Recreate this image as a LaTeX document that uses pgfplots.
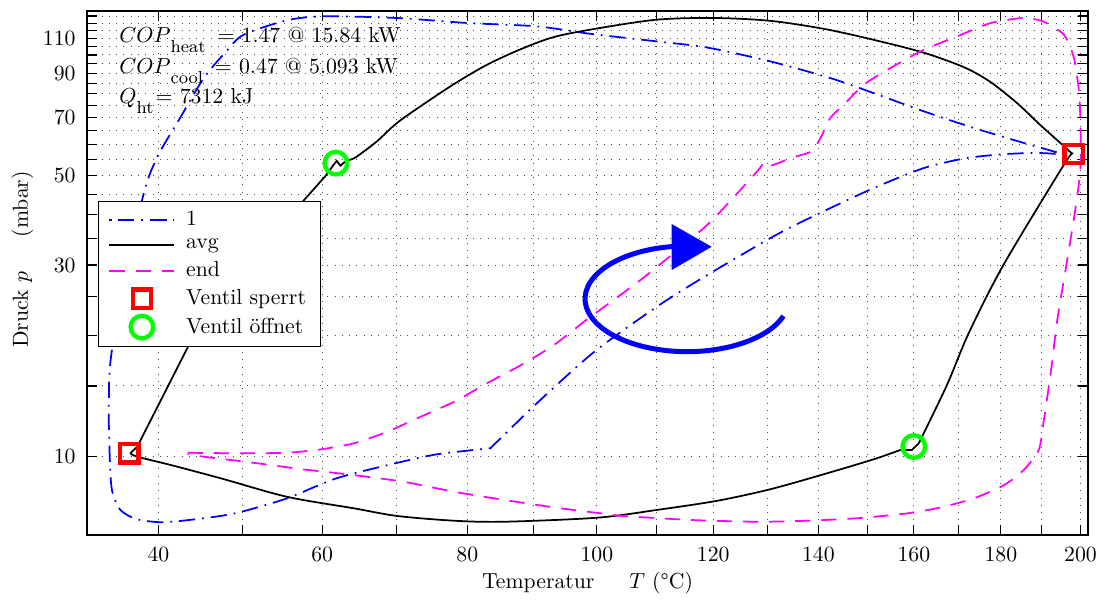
\documentclass[border=0pt]{standalone}
\usepackage{fontspec}
\usepackage{pgfplots}
\pgfplotsset{compat=1.18}
\definecolor{mag}{rgb}{1,0,1}

\begin{document}
\begin{tikzpicture}
\begin{axis}[
  scale only axis,
  width=460.5pt, height=241pt,
  ymode=log,
  x coord trafo/.code={\pgfmathparse{-1000/(#1+273.15)}},
  x coord inv trafo/.code={\pgfmathparse{-1000/#1-273.15}},
  xmin=32, xmax=202,
  ymin=6.385, ymax=128.6,
  xtick={40,50,60,70,80,90,100,110,120,130,140,150,160,170,180,190,200},
  xticklabels={40,,60,,80,,100,,120,,140,,160,,180,,200},
  ytick={10,15,20,25,30,35,40,45,50,55,60,65,70,75,80,85,90,95,100,105,110,115,120,125},
  yticklabels={10,,,,30,,,,50,,,,70,,,,90,,,,110,,,},
  tick align=inside,
  tick pos=both,
  major tick length=4.6pt,
  major tick style={black, line width=0.5pt},
  axis line style={line width=0.9pt},
  grid=major,
  major grid style={black!70, line width=0.45pt, dash pattern=on 0.45pt off 2.9pt},
  xticklabel style={yshift=-2pt},
  yticklabel style={xshift=-1.7pt},
  every axis x label/.style={at={(axis description cs:0.5,-0.1017)}, anchor=base},
  every axis y label/.style={at={(axis description cs:-0.0644,0.526)}, rotate=90, anchor=center},
  xlabel={Temperatur\hspace{16pt}$T$ (\textdegree C)},
  ylabel={Druck $p$\hspace{16pt}(mbar)},
  legend style={at={(axis description cs:0.0113,0.638)}, anchor=north west, draw=black, line width=0.5pt, fill=white, font=\normalsize, inner xsep=4.5pt, inner ysep=2.5pt, row sep=0.5pt, column sep=3pt},
  legend cell align=left,
  legend image code/.code={\draw[mark repeat=2,mark phase=2,#1] plot coordinates {(0cm,0cm) (0.525cm,0cm) (1.05cm,0cm)};},
]

\addplot[blue, line width=0.8pt, smooth, tension=0.45, dash pattern=on 0.8pt off 3.2pt on 7.5pt off 3.2pt] coordinates {
(196.0,56.5) (185.6,60.4) (173.6,65.8) (162.2,72.4) (151.3,80.4) (142.4,87.6)
(130.6,96.4) (118.8,104.4) (110.0,108.1) (98.9,112.9) (90.5,117.8) (80.0,120.1)
(70.0,123.6) (60.2,124.8) (55.5,122.0) (50.1,112.3) (48.0,102.1) (45.3,87.6)
(42.5,69.7) (39.8,55.4) (38.1,43.2) (34.8,18.8) (34.4,13.6) (34.5,10.0)
(34.75,8.26) (35.7,7.37) (37.55,6.99) (40.6,6.87) (45.3,7.03) (49.3,7.25)
(55.5,7.88) (61.9,8.84) (70.1,9.66) (75.6,10.14) (82.9,10.49) (83.9,10.7)
(90.5,13.6) (99.5,18.2) (110.0,23.6) (118.3,28.0) (131.8,35.7) (141.0,40.8)
(151.3,46.6) (162.2,52.3) (172.0,55.4) (181.5,56.7) (189.7,57.0) (195.7,56.5)
};
\addlegendentry{1}

\addplot[black, line width=0.8pt] coordinates {
(36.8,10.2) (37.6,10.6) (43.5,18.9) (57.6,43.4) (60.4,49.9)
(61.4,53.0) (61.9,54.5) (62.4,53.0) (63.2,54.6)
};
\addlegendentry{avg}
\addplot[black, line width=0.8pt, smooth, tension=0.5, forget plot] coordinates {
(63.2,54.6) (64.2,55.3) (65.5,57.5) (67.3,61.0) (70.0,67.7) (73.3,74.5) (78.1,84.7)
(82.9,94.5) (88.0,103.4) (93.1,110.8) (99.5,116.0) (110.0,122.4) (120.3,123.6)
(130.6,121.6) (141.0,116.2) (151.3,109.1) (162.2,101.3) (171.3,93.2) (177.5,85.7)
(184.0,75.8) (189.7,66.9) (195.7,59.3) (197.9,56.7)
};
\addplot[black, line width=0.8pt, smooth, tension=0.5, forget plot] coordinates {
(197.9,56.7) (195.7,53.3) (180.6,30.0) (172.4,20.3) (167.3,15.0) (161.1,10.8)
};
\addplot[black, line width=0.8pt, forget plot] coordinates {
(161.1,10.8) (159.6,10.4) (157.1,10.4)
};
\addplot[black, line width=0.8pt, smooth, tension=0.5, forget plot] coordinates {
(157.1,10.4) (151.3,9.85) (141.0,9.04) (130.6,8.30) (120.7,7.77) (110.0,7.37) (100.0,7.05)
(85.4,6.89) (78.1,6.93) (70.1,7.12) (64.2,7.44) (55.5,7.95) (47.3,8.84)
(41.4,9.54) (37.6,10.0) (36.8,10.2)
};

\addplot[mag, line width=0.8pt, smooth, tension=0.4, dash pattern=on 7pt off 5pt] coordinates {
(43.4,10.23) (49.3,10.2) (55.5,10.23) (59.8,10.43) (64.2,10.8) (68.7,11.54)
(73.3,12.57) (78.1,13.7) (82.9,15.23) (88.0,16.9) (93.1,18.96) (98.3,21.9)
(100.5,23.2) (107.9,28.0) (118.3,37.1) (123.1,43.3) (128.1,51.3) (129.6,54.2)
(130.8,53.1) (134.6,55.4) (138.5,57.5) (140.4,62.1) (142.4,69.7) (145.1,75.1)
(149.3,84.4) (154.9,92.8) (162.2,103.0) (169.7,111.2) (177.5,120.0) (185.5,123.6)
(190.5,121.0) (195.7,112.3) (198.3,98.2) (199.6,81.2) (200.0,67.0) (200.0,52.3)
(198.7,41.6) (196.2,29.5) (194.0,21.9) (192.4,16.4) (190.6,12.34) (189.3,10.4)
(185.6,9.27) (180.8,8.5) (173.6,7.88) (166.0,7.48) (158.6,7.23) (147.9,7.03)
(137.9,6.93) (128.1,6.89) (116.0,6.96) (104.4,7.12) (100.0,7.25) (93.1,7.48)
(85.4,7.81) (78.1,8.18) (71.0,8.66) (64.2,9.0) (57.6,9.3) (51.3,9.66)
(45.3,10.0) (43.4,10.15)
};
\addlegendentry{end}

\addplot[only marks, mark=square, mark size=4.2pt, red, line width=2pt] coordinates {(36.7,10.2) (198.2,56.7)};
\addlegendentry{Ventil sperrt}

\addplot[only marks, mark=o, mark size=5.2pt, green, line width=2pt] coordinates {(61.8,53.8) (160.0,10.6)};
\addlegendentry{Ventil öffnet}

\node[anchor=base west, inner sep=0pt] at (rel axis cs:0.032,0.940) {$COP$\raisebox{-4.5pt}{\footnotesize heat}\hspace{5.5pt}= 1.47 @ 15.84 kW};
\node[anchor=base west, inner sep=0pt] at (rel axis cs:0.032,0.881) {$COP$\raisebox{-4.5pt}{\footnotesize cool}\hspace{5.5pt}= 0.47 @ 5.093 kW};
\node[anchor=base west, inner sep=0pt] at (rel axis cs:0.032,0.824) {$Q$\raisebox{-4.5pt}{\footnotesize ht}\kern1pt= 7312 kJ};

\draw[blue, line width=2.3pt] ([shift={(44.34pt,-7.91pt)}]rel axis cs:0.5994,0.4508) arc[start angle=-19, end angle=-262, x radius=46.9pt, y radius=24.3pt];
\fill[blue] (rel axis cs:0.5841,0.5935) -- (rel axis cs:0.5841,0.5057) -- (rel axis cs:0.6240,0.5502) -- cycle;

\coordinate (bl) at (rel axis cs:0,0);
\coordinate (tr) at (rel axis cs:1,1);
\end{axis}
\path ([shift={(-40pt,-29.4pt)}]bl) rectangle ([shift={(8.7pt,5.1pt)}]tr);
\end{tikzpicture}
\end{document}
